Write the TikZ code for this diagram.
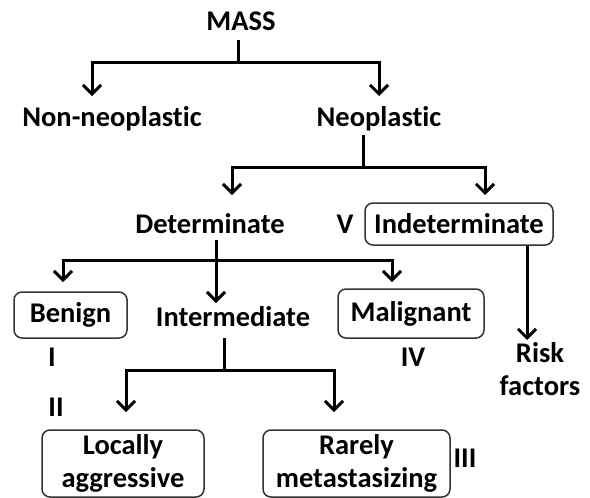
\documentclass[tikz,border=0pt]{standalone}
\usepackage{fontspec}
\setmainfont[Ligatures={NoCommon}]{Carlito}
\usetikzlibrary{arrows.meta}
\begin{document}
\begin{tikzpicture}[x=1pt,y=-1pt,
  txt/.style={font=\bfseries\fontsize{28.5}{33}\selectfont, inner sep=0pt, align=center},
  box/.style={txt, draw=black!80, line width=1.5pt, rounded corners=8pt},
  conn/.style={line width=3pt},
  arr/.style={conn, -{Straight Barb[length=9pt,width=18pt,line width=3pt]}}]
\useasboundingbox (0,0) rectangle (590,498);
% nodes
\node[txt] (mass) at (241,21) {MASS};
\node[txt] (nonneo) at (112,119) {Non-neoplastic};
\node[txt] (neo) at (379,119) {Neoplastic};
\node[txt] (det) at (210,224) {Determinate};
\node[txt] (v) at (345,224) {V};
\node[box, minimum width=188pt, minimum height=42pt] (indet) at (459,224) {Indeterminate};
\node[box, minimum width=113pt, minimum height=46pt] (benign) at (70.5,315) {Benign};
\node[txt] (inter) at (233,317) {Intermediate};
\node[box, minimum width=146pt, minimum height=49pt] (malig) at (411,313.5) {Malignant};
\node[txt] (i1) at (52,357) {I};
\node[txt] (iv) at (413,357) {IV};
\node[txt] (risk) at (540,369) {Risk\\factors};
\node[txt] (ii) at (56,407) {II};
\node[box, minimum width=162pt, minimum height=67pt] (loc) at (123,463.5) {Locally\\aggressive};
\node[box, minimum width=187pt, minimum height=67pt] (rare) at (356.5,463.5) {Rarely\\metastasizing};
\node[txt] (iii) at (465,458) {III};
% junction coordinates
\coordinate (m0) at (238,40);
\coordinate (m1) at (238,62);
\coordinate (t1) at (92,96);
\coordinate (t2) at (379,96);
\coordinate (n0) at (363,135);
\coordinate (n1) at (363,167);
\coordinate (t3) at (232,195);
\coordinate (t4) at (485,195);
\coordinate (d0) at (216,240);
\coordinate (d1) at (216,260);
\coordinate (t5) at (63,282);
\coordinate (t6) at (392,282);
\coordinate (t7) at (216,303);
\coordinate (t8) at (527,340);
\coordinate (i0) at (224,338);
\coordinate (i1j) at (224,370);
\coordinate (t9) at (126,412);
\coordinate (t10) at (334,412);
% connectors
\draw[conn] (m0) -- (m1);
\draw[arr] (m1) -| (t1);
\draw[arr] (m1) -| (t2);
\draw[conn] (n0) -- (n1);
\draw[arr] (n1) -| (t3);
\draw[arr] (n1) -| (t4);
\draw[arr] (d0) -- (t7);
\draw[arr] (d1) -| (t5);
\draw[arr] (d1) -| (t6);
\draw[arr] (indet.south -| t8) -- (t8);
\draw[conn] (i0) -- (i1j);
\draw[arr] (i1j) -| (t9);
\draw[arr] (i1j) -| (t10);
\end{tikzpicture}
\end{document}
